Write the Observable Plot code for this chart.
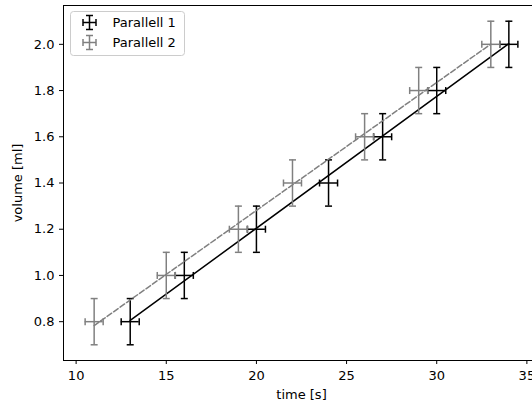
<!DOCTYPE html>
<html>
<head>
<meta charset="utf-8">
<script src="https://cdn.jsdelivr.net/npm/d3@7"></script>
<script src="https://cdn.jsdelivr.net/npm/@observablehq/plot@0.6"></script>
<style>
  html, body { margin: 0; padding: 0; background: white; overflow: hidden; }
  #wrap { position: relative; width: 532px; height: 406px; overflow: hidden; font-family: "DejaVu Sans", sans-serif; }
  #legend { position: absolute; left: 70px; top: 11px; }
</style>
</head>
<body>
<div id="wrap"></div>
<script>
// ---- data ----
const time1 = [13, 16, 20, 24, 27, 30, 34];
const vol1  = [0.8, 1.0, 1.2, 1.4, 1.6, 1.8, 2.0];
const time2 = [11, 15, 19, 22, 26, 29, 33];
const vol2  = [0.8, 1.0, 1.2, 1.4, 1.6, 1.8, 2.0];
const xErr = 0.5;
const yErr = 0.1;
const seriesNames = ["Parallell 1", "Parallell 2"];
const xTicks = [10, 15, 20, 25, 30, 35];
const yTicks = [0.8, 1.0, 1.2, 1.4, 1.6, 1.8, 2.0];
const xLabel = "time [s]";
const yLabel = "volume [ml]";

const s1 = time1.map((t, i) => ({t, v: vol1[i]}));
const s2 = time2.map((t, i) => ({t, v: vol2[i]}));

const hcap = {draw(ctx) { ctx.moveTo(-3.5, 0); ctx.lineTo(3.5, 0); }};
const vcap = {draw(ctx) { ctx.moveTo(0, -3.5); ctx.lineTo(0, 3.5); }};

function seriesMarks(data, color, dash) {
  const common = {stroke: color, strokeWidth: 1.5};
  return [
    Plot.linearRegressionY(data, {x: "t", y: "v", ci: 0, ...common, strokeDasharray: dash}),
    Plot.ruleX(data, {x: "t", y1: d => d.v - yErr, y2: d => d.v + yErr, ...common}),
    Plot.ruleY(data, {y: "v", x1: d => d.t - xErr, x2: d => d.t + xErr, ...common}),
    Plot.dot(data, {x: "t", y: d => d.v + yErr, symbol: hcap, fill: "none", ...common}),
    Plot.dot(data, {x: "t", y: d => d.v - yErr, symbol: hcap, fill: "none", ...common}),
    Plot.dot(data, {x: d => d.t - xErr, y: "v", symbol: vcap, fill: "none", ...common}),
    Plot.dot(data, {x: d => d.t + xErr, y: "v", symbol: vcap, fill: "none", ...common})
  ];
}

const colors = ["#000000", "#808080"];

const chart = Plot.plot({
  width: 532,
  height: 406,
  marginLeft: 63,
  marginRight: -7,
  marginTop: 5,
  marginBottom: 46,
  style: {fontFamily: "DejaVu Sans", fontSize: "13px", color: "#000", background: "white", overflow: "visible"},
  x: {domain: [9.3, 35.7]},
  y: {domain: [0.632, 2.168]},
  marks: [
    ...seriesMarks(s1, colors[0], null),
    ...seriesMarks(s2, colors[1], "5.55,2.4"),
    Plot.frame({stroke: "black", strokeWidth: 1}),
    Plot.axisX({ticks: xTicks, tickSize: 4, tickPadding: 6, tickFormat: d3.format("d"),
      label: xLabel, labelAnchor: "center", labelOffset: 38, labelArrow: "none"}),
    Plot.axisY({ticks: yTicks, tickSize: 4, tickPadding: 5, tickFormat: d3.format(".1f"),
      label: yLabel, labelAnchor: "center", labelOffset: 51, labelArrow: "none"})
  ]
});
document.getElementById("wrap").appendChild(chart);

// ---- legend ----
const ns = "http://www.w3.org/2000/svg";
const leg = document.createElementNS(ns, "svg");
leg.setAttribute("id", "legend");
leg.setAttribute("width", 116);
leg.setAttribute("height", 46);
let html = `<rect x="0.5" y="0.5" width="114" height="44" rx="3" ry="3" fill="rgba(255,255,255,0.8)" stroke="#cccccc" stroke-width="1"/>`;
seriesNames.forEach((name, i) => {
  const cy = 11.5 + i * 20;
  const cx = 19.5;
  const c = colors[i];
  html += `<g stroke="${c}" stroke-width="1.5" fill="none">
    <line x1="${cx - 6.5}" y1="${cy}" x2="${cx + 6.5}" y2="${cy}"/>
    <line x1="${cx}" y1="${cy - 7}" x2="${cx}" y2="${cy + 7}"/>
    <line x1="${cx - 3.5}" y1="${cy - 7}" x2="${cx + 3.5}" y2="${cy - 7}"/>
    <line x1="${cx - 3.5}" y1="${cy + 7}" x2="${cx + 3.5}" y2="${cy + 7}"/>
    <line x1="${cx - 6.5}" y1="${cy - 3.5}" x2="${cx - 6.5}" y2="${cy + 3.5}"/>
    <line x1="${cx + 6.5}" y1="${cy - 3.5}" x2="${cx + 6.5}" y2="${cy + 3.5}"/>
  </g>
  <text x="42.5" y="${cy + 4.7}" font-family="DejaVu Sans" font-size="13" fill="#000">${name}</text>`;
});
leg.innerHTML = html;
document.getElementById("wrap").appendChild(leg);
</script>
</body>
</html>
